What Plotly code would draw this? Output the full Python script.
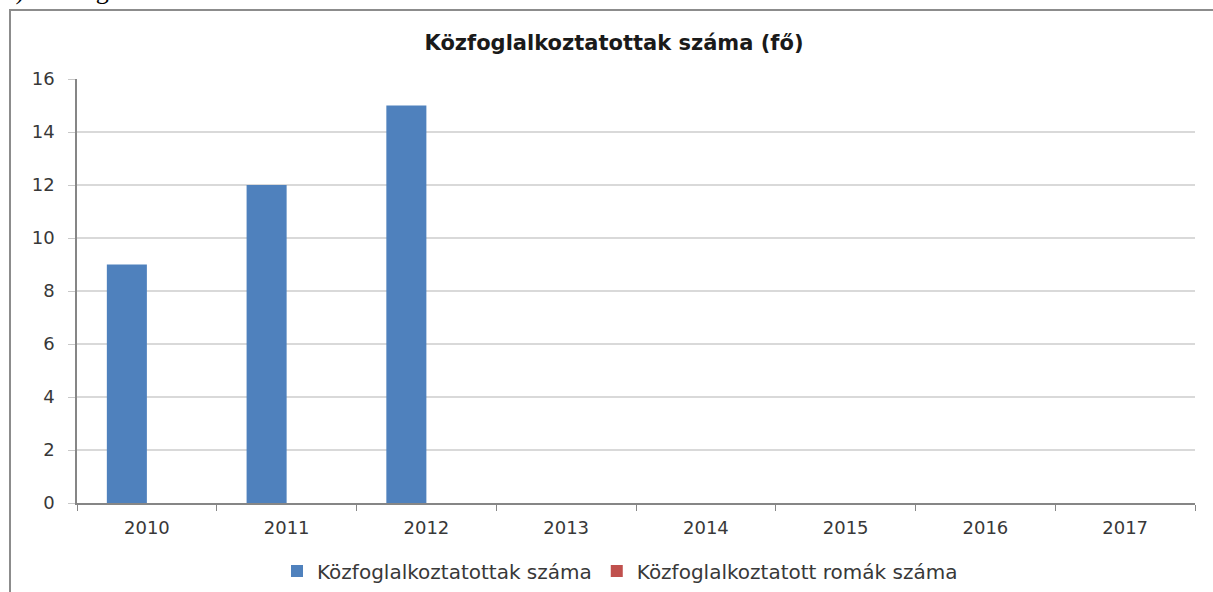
import plotly.graph_objects as go

years = ["2010", "2011", "2012", "2013", "2014", "2015", "2016", "2017"]
kozfoglalkoztatottak = [9, 12, 15, None, None, None, None, None]
romak = [0, 0, 0, 0, 0, 0, 0, 0]
y_ticks = [0, 2, 4, 6, 8, 10, 12, 14, 16]

W, H = 1213, 592
L, R, T, B = 77, 18, 79, 89
pw, ph = W - L - R, H - T - B

def px_x(x):
    return (x - L) / pw

def px_y(y):
    return (H - B - y) / ph

font_fam = "DejaVu Sans"
txt_col = "#383838"

fig = go.Figure()
fig.add_trace(go.Bar(x=years, y=kozfoglalkoztatottak, name="Közfoglalkoztatottak száma",
                     marker=dict(color="#4F81BD", line=dict(width=0))))
fig.add_trace(go.Bar(x=years, y=romak, name="Közfoglalkoztatott romák száma",
                     marker=dict(color="#C0504D", line=dict(width=0))))

fig.update_layout(
    width=W, height=H,
    margin=dict(l=L, r=R, t=T, b=B, autoexpand=False),
    paper_bgcolor="white", plot_bgcolor="white",
    barmode="group", bargap=0.427, bargroupgap=0,
    font=dict(family=font_fam, color=txt_col, size=16),
    title=dict(text="<b>Közfoglalkoztatottak száma (fő)</b>", x=px_x(614), xref="paper", xanchor="center",
               y=1 - 43 / H, yanchor="middle", font=dict(size=21, color="#1a1a1a", family=font_fam)),
    showlegend=True,
    legend=dict(orientation="h", x=px_x(620), xanchor="center", y=px_y(571), yanchor="middle",
                font=dict(size=20, color=txt_col), itemwidth=30, bgcolor="rgba(0,0,0,0)"),
    xaxis=dict(type="category", showline=True, linecolor="#868686", linewidth=1.5,
               ticks="outside", tickson="boundaries", ticklen=6, tickcolor="#868686",
               tickfont=dict(size=18, color=txt_col), showgrid=False, ticklabelstandoff=8),
    yaxis=dict(range=[0, 16], tickvals=y_ticks, showline=True, linecolor="#868686", linewidth=1.5,
               ticks="outside", ticklen=7, tickcolor="#c8c8c8", showgrid=True, gridcolor="#d9d9d9",
               gridwidth=1.5, zeroline=False, tickfont=dict(size=18, color=txt_col), ticklabelstandoff=10),
)

# outer frame (left and top visible)
fig.add_shape(type="rect", xref="paper", yref="paper",
              x0=px_x(10), x1=px_x(1240), y0=px_y(620), y1=px_y(10),
              line=dict(color="#8c8c8c", width=2), fillcolor="rgba(0,0,0,0)", layer="above")

# cut-off heading above the chart
fig.add_annotation(text="c) Közfoglalkoztatás", xref="paper", yref="paper",
                   x=px_x(2), xanchor="left", y=1, yanchor="bottom", yshift=T - 7,
                   showarrow=False, font=dict(family="Liberation Serif", size=26, color="black"))

fig.write_html("out.html", config={"displayModeBar": False},
               post_script="document.body.style.margin='0';document.body.style.overflow='hidden';")
